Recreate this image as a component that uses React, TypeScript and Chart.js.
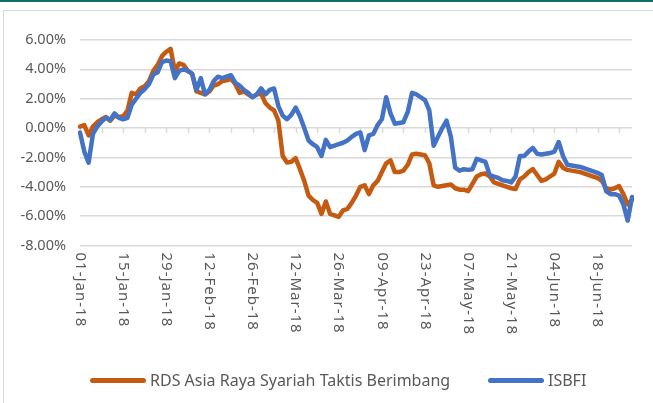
import React, { useEffect, useRef } from 'react';
import { Chart, registerables } from 'chart.js';

Chart.register(...registerables);

const MONTHS = ['Jan', 'Feb', 'Mar', 'Apr', 'May', 'Jun', 'Jul', 'Aug', 'Sep', 'Oct', 'Nov', 'Dec'];

// Trading days (weekdays) from 01-Jan-18
function weekdayLabels(count: number): string[] {
  const out: string[] = [];
  const d = new Date(Date.UTC(2018, 0, 1));
  while (out.length < count) {
    const wd = d.getUTCDay();
    if (wd !== 0 && wd !== 6) {
      const dd = String(d.getUTCDate()).padStart(2, '0');
      out.push(`${dd}-${MONTHS[d.getUTCMonth()]}-18`);
    }
    d.setUTCDate(d.getUTCDate() + 1);
  }
  return out;
}

const categories = weekdayLabels(129);
const labelEvery = 10;
const minorTickEvery = 5;

const seriesNames = ['RDS Asia Raya Syariah Taktis Berimbang', 'ISBFI'];
const seriesColors = ['#c55a11', '#4472c4'];

// values in percent
const rdsValues = [
  0.1, 0.2, -0.5, 0.1, 0.4, 0.6, 0.75, 0.5, 0.85, 0.75,
  0.8, 1.2, 2.4, 2.3, 2.7, 2.85, 3.2, 3.9, 4.3, 4.9,
  5.2, 5.4, 3.9, 4.4, 4.3, 3.9, 3.7, 2.5, 2.4, 2.3,
  2.5, 2.9, 3.0, 3.2, 3.25, 3.35, 3.0, 2.4, 2.5, 2.3,
  2.1, 2.3, 2.35, 1.7, 1.4, 1.2, 0.5, -1.9, -2.35, -2.3,
  -2.05, -2.8, -3.6, -4.6, -4.9, -5.1, -5.85, -5.0, -5.85, -5.95,
  -6.05, -5.6, -5.5, -5.1, -4.6, -4.0, -3.9, -4.5, -3.9, -3.6,
  -3.0, -2.4, -2.2, -3.0, -3.0, -2.9, -2.5, -1.8, -1.75, -1.8,
  -1.85, -2.4, -3.9, -4.0, -3.95, -3.9, -3.85, -4.1, -4.2, -4.2,
  -4.3, -3.8, -3.3, -3.15, -3.1, -3.3, -3.7, -3.8, -3.9, -4.0,
  -4.1, -4.15, -3.5, -3.3, -3.0, -2.8, -3.2, -3.6, -3.5, -3.3,
  -3.1, -2.3, -2.7, -2.85, -2.9, -2.95, -3.0, -3.1, -3.2, -3.3,
  -3.4, -3.6, -4.1, -4.2, -4.1, -3.95, -4.5, -5.2, -4.9,
];

const isbfiValues = [
  -0.3, -1.6, -2.35, -0.4, 0.1, 0.45, 0.7, 0.55, 1.0, 0.7,
  0.6, 0.7, 1.6, 2.0, 2.4, 2.65, 3.0, 3.65, 3.8, 4.5,
  4.6, 4.55, 3.4, 3.9, 4.0, 3.9, 3.7, 2.6, 3.4, 2.3,
  2.6, 3.2, 3.5, 3.4, 3.5, 3.6, 3.1, 2.9, 2.6, 2.4,
  2.1, 2.3, 2.7, 2.3, 2.6, 2.7, 1.5, 0.85, 0.6, 0.9,
  1.4, 0.8, 0.0, -0.85, -1.1, -1.3, -1.9, -0.8, -1.3, -1.2,
  -1.1, -1.0, -0.85, -0.6, -0.4, -0.3, -1.5, -0.5, -0.4, 0.2,
  0.6, 2.1, 1.0, 0.3, 0.35, 0.4, 1.1, 2.4, 2.3, 2.1,
  1.9, 1.2, -1.2, -0.6, 0.0, 0.5, -0.6, -2.7, -2.9, -2.8,
  -2.85, -2.8, -2.1, -2.2, -2.3, -3.2, -3.3, -3.4, -3.55, -3.6,
  -3.7, -3.3, -1.9, -1.9, -1.6, -1.35, -1.75, -1.8, -1.75, -1.7,
  -1.6, -0.95, -1.9, -2.5, -2.55, -2.6, -2.65, -2.75, -2.85, -2.95,
  -3.05, -3.2, -4.3, -4.5, -4.5, -4.6, -5.2, -6.3, -4.7,
];

const yMin = -8;
const yMax = 6;
const yStep = 2;

const FONT = '"Noto Sans", sans-serif';
const TEXT = '#595959';
const GRID = '#d9d9d9';

const zeroTicksPlugin = {
  id: 'zeroTicks',
  beforeDatasetsDraw(chart: any) {
    const x = chart.scales.x;
    const y = chart.scales.y;
    const y0 = y.getPixelForValue(0);
    const ctx = chart.ctx;
    ctx.save();
    ctx.strokeStyle = GRID;
    ctx.lineWidth = 1.5;
    for (let i = 0; i < categories.length; i += minorTickEvery) {
      const px = Math.round(x.getPixelForValue(i)) + 0.5;
      ctx.beginPath();
      ctx.moveTo(px, y0);
      ctx.lineTo(px, y0 + 5);
      ctx.stroke();
    }
    ctx.restore();
  },
};

// Category labels, rotated clockwise (reading top to bottom) like the original
const xLabelsPlugin = {
  id: 'xLabels',
  afterDraw(chart: any) {
    const x = chart.scales.x;
    const ctx = chart.ctx;
    const top = chart.chartArea.bottom + 7;
    ctx.save();
    ctx.fillStyle = TEXT;
    ctx.font = `15px ${FONT}`;
    (ctx as any).letterSpacing = '1px';
    ctx.textAlign = 'left';
    ctx.textBaseline = 'middle';
    for (let i = 0; i < categories.length; i += labelEvery) {
      const px = x.getPixelForValue(i);
      ctx.save();
      ctx.translate(px, top);
      ctx.rotate(Math.PI / 2);
      ctx.fillText(categories[i], 0, 0);
      ctx.restore();
    }
    ctx.restore();
  },
};

export default function App() {
  const canvasRef = useRef<HTMLCanvasElement | null>(null);

  useEffect(() => {
    if (!canvasRef.current) return;
    const chart = new Chart(canvasRef.current, {
      type: 'line',
      data: {
        labels: categories,
        datasets: [
          {
            label: seriesNames[0],
            data: rdsValues,
            borderColor: seriesColors[0],
            backgroundColor: seriesColors[0],
            borderWidth: 4.5,
            pointRadius: 0,
            tension: 0,
            borderJoinStyle: 'round',
            borderCapStyle: 'round',
            order: 1,
          },
          {
            label: seriesNames[1],
            data: isbfiValues,
            borderColor: seriesColors[1],
            backgroundColor: seriesColors[1],
            borderWidth: 4.5,
            pointRadius: 0,
            tension: 0,
            borderJoinStyle: 'round',
            borderCapStyle: 'round',
            order: 0,
          },
        ],
      },
      options: {
        animation: false,
        responsive: false,
        devicePixelRatio: 1,
        layout: { padding: { left: 0, right: 21, top: 40, bottom: 0 } },
        plugins: {
          legend: { display: false },
          tooltip: { enabled: false },
        },
        scales: {
          x: {
            type: 'category',
            grid: { display: false, drawTicks: false },
            border: { display: false },
            ticks: { display: false, autoSkip: false },
            afterFit: (scale: any) => {
              scale.height = 157.5;
            },
          },
          y: {
            min: yMin,
            max: yMax,
            grid: { color: GRID, lineWidth: 1.5, drawTicks: false },
            border: { display: false },
            ticks: {
              stepSize: yStep,
              padding: 14,
              color: TEXT,
              font: { family: FONT, size: 14.5 },
              callback: (v: any) => Number(v).toFixed(2) + '%',
            },
            afterFit: (scale: any) => {
              scale.width = 80;
            },
          },
        },
      },
      plugins: [zeroTicksPlugin, xLabelsPlugin],
    });
    return () => chart.destroy();
  }, []);

  const legendItem = (i: number, left: number) => (
    <div
      style={{
        position: 'absolute',
        left,
        top: 368,
        height: 24,
        display: 'flex',
        alignItems: 'center',
        fontFamily: FONT,
        fontSize: 16,
        color: TEXT,
        whiteSpace: 'nowrap',
      }}
    >
      <span style={{ display: 'inline-block', width: 56, height: 5, borderRadius: 3, background: seriesColors[i] }} />
      <span style={{ marginLeft: 4 }}>{seriesNames[i]}</span>
    </div>
  );

  return (
    <div style={{ position: 'fixed', left: 0, top: 0, width: 653, height: 403, background: '#fff', overflow: 'hidden' }}>
      <div style={{ position: 'absolute', left: 0, top: 0, width: 653, height: 2, background: '#0f6e6a' }} />
      <div
        style={{
          position: 'absolute',
          left: 3,
          top: 10,
          width: 660,
          height: 400,
          borderLeft: '1.5px solid #d9d9d9',
          borderTop: '1.5px solid #d9d9d9',
        }}
      />
      <canvas ref={canvasRef} width={653} height={403} style={{ position: 'absolute', left: 0, top: 0, width: 653, height: 403 }} />
      {legendItem(0, 90)}
      {legendItem(1, 488)}
    </div>
  );
}
